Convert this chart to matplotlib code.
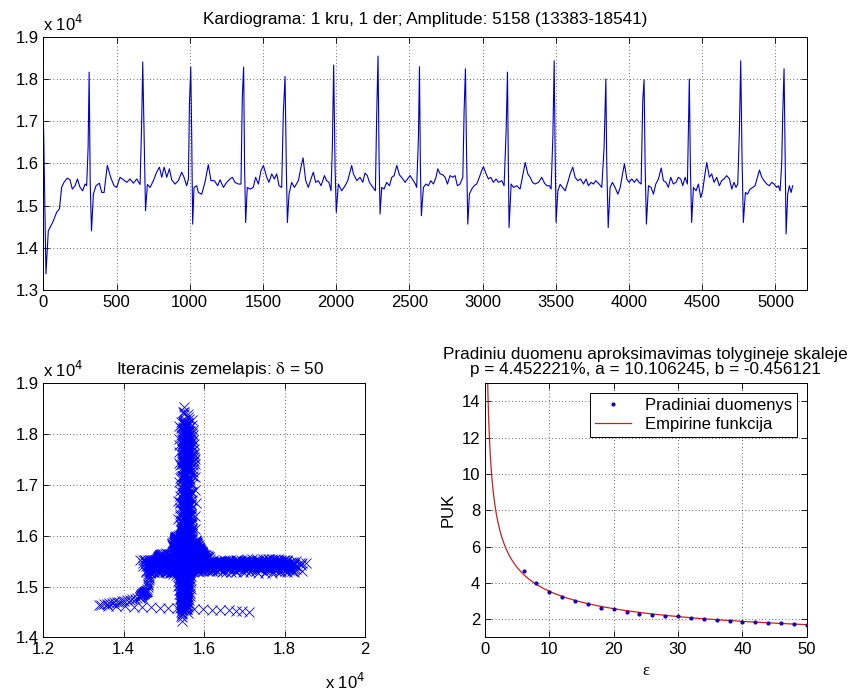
import numpy as np
import matplotlib
matplotlib.use("Agg")
import matplotlib.pyplot as plt
from matplotlib.ticker import FuncFormatter, MultipleLocator

plt.rcParams['font.family'] = ['Liberation Sans', 'DejaVu Sans']
plt.rcParams['mathtext.fontset'] = 'stix'

# ---------------- data ----------------
# ECG vertices: sample index and raw amplitude
ecg_n = [0, 3, 18, 34, 46, 69, 91, 110, 125, 141, 164, 182, 198, 217, 233, 251, 269, 285, 296, 306, 313, 320, 329, 342, 360, 383, 399, 415, 437, 460, 483, 501, 524, 547, 570, 592, 615, 638, 661, 672, 679, 688, 698, 711, 729, 752, 774, 793, 809, 825, 843, 861, 877, 900, 922, 945, 961, 979, 991, 998, 1007, 1013, 1020, 1029, 1048,
         1059, 1082, 1104, 1127, 1145, 1168, 1191, 1207, 1230, 1252, 1275, 1291, 1309, 1332, 1350, 1359, 1368, 1375, 1382, 1393, 1412, 1434, 1450, 1469, 1487, 1503, 1526, 1541, 1560, 1578, 1594, 1610, 1628, 1639, 1651, 1660, 1667, 1678, 1696, 1715, 1742, 1760, 1774, 1792, 1810, 1828, 1844, 1860, 1878, 1897, 1920, 1935, 1951, 1965, 1974, 1983, 1993, 2001, 2015, 2038, 2061, 2079, 2106, 2118, 2141, 2163, 2182, 2197, 2213, 2227, 2243, 2259, 2268, 2277, 2286, 2293, 2300, 2311, 2327, 2345, 2364, 2380, 2396, 2414, 2432, 2455, 2471, 2487, 2505, 2523, 2541, 2550, 2562, 2569, 2575, 2582, 2596, 2614, 2630, 2646, 2664, 2682, 2694, 2710, 2728, 2744, 2760, 2778, 2796, 2812, 2828, 2846, 2865, 2874, 2883, 2890, 2899, 2910, 2926, 2942, 2960, 2978, 2994, 3006, 3024, 3040, 3056, 3074, 3092, 3108, 3131, 3147, 3161, 3170, 3176, 3181, 3195, 3211, 3234, 3256, 3272, 3291, 3309, 3325, 3341, 3359, 3382, 3404, 3423, 3439, 3457, 3468, 3480, 3489, 3496, 3502, 3514, 3530, 3546, 3564, 3582, 3598, 3616, 3632, 3650, 3669, 3689, 3707, 3723, 3741, 3757, 3773, 3796, 3814, 3830, 3842, 3848, 3858, 3871, 3887, 3905, 3924, 3940, 3956, 3969, 3985, 4001, 4019, 4037, 4053, 4069, 4083, 4094, 4103, 4110, 4119, 4133, 4151, 4167, 4183, 4201, 4220, 4235, 4253, 4269, 4285, 4303, 4321, 4337, 4353, 4367, 4383, 4399, 4406, 4412, 4419, 4428, 4440, 4458, 4474, 4490, 4503, 4519, 4531, 4549, 4565, 4581, 4599, 4617, 4633, 4649, 4667, 4686, 4702, 4717, 4731, 4743, 4754, 4763, 4772, 4781, 4795, 4809, 4827, 4845, 4861, 4877, 4891, 4907, 4922, 4941, 4959, 4975, 4991, 5009, 5020, 5032, 5043, 5050, 5059, 5066, 5073, 5084, 5095, 5107, 5118]
ecg_v = [17110, 16620, 13383, 14400, 14480, 14640, 14840, 14920, 15430, 15550, 15650, 15610, 15390, 15470, 15630, 15430, 15350, 15510, 15470, 16380, 18160, 15590, 14400, 15270, 15470, 15530, 15310, 15310, 15950, 15670, 15470, 15430, 15670, 15610, 15550, 15630, 15530, 15630, 15500, 17010, 18400, 16780, 14880, 15500, 15430, 15590, 15790, 15910, 15670, 15910, 15670, 15870, 15610, 15510, 15590, 15790, 15670, 15470, 15630, 17410, 18280, 16780, 14560, 15430, 15470,
         15310, 15270, 15550, 15970, 15590, 15590, 15470, 15610, 15430, 15550, 15630, 15670, 15550, 15510, 15510, 17570, 18280, 15830, 14600, 15430, 15390, 15430, 15670, 15510, 15830, 15950, 15670, 15550, 15750, 15630, 15750, 15470, 15430, 17170, 18060, 15830, 14600, 15270, 15550, 15430, 15590, 15910, 16130, 15590, 15430, 15630, 15790, 15550, 15590, 15470, 15710, 15590, 15550, 15350, 16380, 18330, 15830, 14840, 15510, 15350, 15470, 15590, 15950, 15750, 15590, 15670, 15550, 15770, 15710, 15550, 15470, 15390, 15350, 17170, 18541, 16140, 14800, 15430, 15390, 15550, 15470, 15670, 15710, 15950, 15730, 15630, 15550, 15630, 15710, 15610, 15510, 15430, 16620, 18290, 15990, 14760, 15430, 15510, 15470, 15590, 15510, 15670, 15870, 15750, 15730, 15670, 15510, 15710, 15670, 15710, 15470, 15510, 15670, 17250, 18240, 16380, 14560, 15270, 15390, 15470, 15510, 15670, 15830, 15920, 15750, 15630, 15670, 15550, 15630, 15550, 15590, 15470, 16780, 18160, 16000, 14480, 15510, 15430, 15470, 15390, 15670, 16020, 15750, 15670, 15550, 15510, 15550, 15670, 15530, 15470, 15470, 15390, 16620, 18430, 16140, 14600, 15350, 15500, 15430, 15350, 15550, 15750, 15910, 15670, 15590, 15630, 15510, 15630, 15470, 15550, 15510, 15590, 15510, 15430, 16380, 18000, 15990, 14480, 15430, 15550, 15430, 15270, 15430, 15750, 15990, 15630, 15550, 15630, 15550, 15630, 15550, 15510, 17490, 17980, 15990, 14560, 15470, 15430, 15270, 15510, 15630, 15890, 15590, 15550, 15430, 15670, 15510, 15550, 15670, 15630, 15470, 15670, 15510, 16780, 18000, 15990, 14600, 15430, 15350, 15510, 15190, 15350, 15750, 16020, 15670, 15750, 15550, 15670, 15470, 15590, 15630, 15710, 15630, 15390, 15550, 15430, 15510, 16780, 18430, 16140, 14600, 15310, 15270, 15390, 15430, 15470, 15670, 15840, 15670, 15590, 15510, 15470, 15550, 15510, 15430, 15470, 15350, 15990, 17170, 18240, 16380, 14330, 15270, 15470, 15310, 15470]

delay = 50

# PUK vs epsilon
eps_pts = [6, 8, 10, 12, 14, 16, 18, 20, 22, 24, 26, 28, 30, 32, 34, 36, 38, 40, 42, 44, 46, 48, 50]
puk_pts = [4.67, 3.97, 3.51, 3.23, 2.99, 2.83, 2.64, 2.55, 2.39, 2.31, 2.24, 2.20, 2.15,
           2.07, 2.00, 1.96, 1.91, 1.87, 1.82, 1.80, 1.78, 1.74, 1.69]
p_fit, a_fit, b_fit = 4.452221, 10.106245, -0.456121

# ---------------- figure ----------------
fig = plt.figure(figsize=(8.51, 6.91), dpi=100)
BLUE = '#0000ff'
GRID = dict(color='black', linestyle=(0, (1, 3)), linewidth=0.6, alpha=0.8)
TFS = 12
TITLE_FS = 12.3


def style(ax):
    ax.grid(True, **GRID)
    ax.tick_params(direction='in', top=True, right=True, labelsize=TFS, length=4, width=0.6)
    for s in ax.spines.values():
        s.set_linewidth(0.7)


def f4(v, p):
    return f'{v / 1e4:g}'


# top: cardiogram
ax1 = fig.add_axes([0.0509, 0.5803, 0.8971, 0.3666])
ax1.plot(ecg_n, ecg_v, color='#0000c8', lw=0.8)
ax1.set_xlim(0, 5214)
ax1.set_ylim(13000, 19000)
ax1.xaxis.set_major_locator(MultipleLocator(500))
ax1.yaxis.set_major_locator(MultipleLocator(1000))
ax1.yaxis.set_major_formatter(FuncFormatter(f4))
style(ax1)
amp_min, amp_max = min(ecg_v), max(ecg_v)
ax1.set_title(f'Kardiograma: 1 kru, 1 der; Amplitude: {amp_max - amp_min} ({amp_min}-{amp_max})',
              fontsize=TITLE_FS, pad=9)
ax1.text(0.0, 1.012, r'x 10$^{4}$', transform=ax1.transAxes, fontsize=TFS, ha='left', va='bottom',
         math_fontfamily='dejavusans')

# bottom-left: iteration map
sig = np.interp(np.arange(0, ecg_n[-1] + 1), ecg_n, ecg_v)
ax2 = fig.add_axes([0.0509, 0.0777, 0.3780, 0.3676])
ax2.plot(sig[:-delay], sig[delay:], 'x', color=BLUE, ms=6.5, mew=0.6)
ax2.set_xlim(12000, 20000)
ax2.set_ylim(14000, 19000)
ax2.xaxis.set_major_locator(MultipleLocator(2000))
ax2.yaxis.set_major_locator(MultipleLocator(1000))
ax2.xaxis.set_major_formatter(FuncFormatter(f4))
ax2.yaxis.set_major_formatter(FuncFormatter(f4))
style(ax2)
ax2.set_title(r'Iteracinis zemelapis: $\mathrm{\delta}$ = ' + str(delay), fontsize=TITLE_FS, pad=7, x=0.55)
ax2.text(0.0, 1.012, r'x 10$^{4}$', transform=ax2.transAxes, fontsize=TFS, ha='left', va='bottom',
         math_fontfamily='dejavusans')
ax2.text(1.0, -0.135, r'x 10$^{4}$', transform=ax2.transAxes, fontsize=TFS, ha='right', va='top',
         math_fontfamily='dejavusans')

# bottom-right: PUK approximation
ax3 = fig.add_axes([0.5699, 0.0777, 0.3781, 0.3676])
ax3.plot(eps_pts, puk_pts, '.', color='#1a00b0', ms=4, label='Pradiniai duomenys', zorder=3)
eps_line = np.linspace(0.05, 50, 1000)
ax3.plot(eps_line, a_fit * eps_line ** b_fit, color='#c82020', lw=0.9, label='Empirine funkcija')
ax3.set_xlim(0, 50)
ax3.set_ylim(1, 15)
ax3.xaxis.set_major_locator(MultipleLocator(10))
ax3.set_yticks([2, 4, 6, 8, 10, 12, 14])
style(ax3)
ax3.set_title(f'Pradiniu duomenu aproksimavimas tolygineje skaleje\n'
              f'p = {p_fit:.6f}%, a = {a_fit:.6f}, b = {b_fit:.6f}',
              fontsize=TITLE_FS, pad=7, linespacing=1.0)
ax3.set_ylabel('PUK', fontsize=TFS, labelpad=4)
ax3.set_xlabel('ε', fontsize=TFS, labelpad=4, family=['Liberation Serif', 'DejaVu Serif'])
leg = ax3.legend(loc='upper right', fontsize=TFS, fancybox=False, edgecolor='black',
                 framealpha=1, borderaxespad=0.6, handlelength=2.2, borderpad=0.3, labelspacing=0.2)
leg.get_frame().set_linewidth(0.7)

fig.savefig('out.png', dpi=100)
